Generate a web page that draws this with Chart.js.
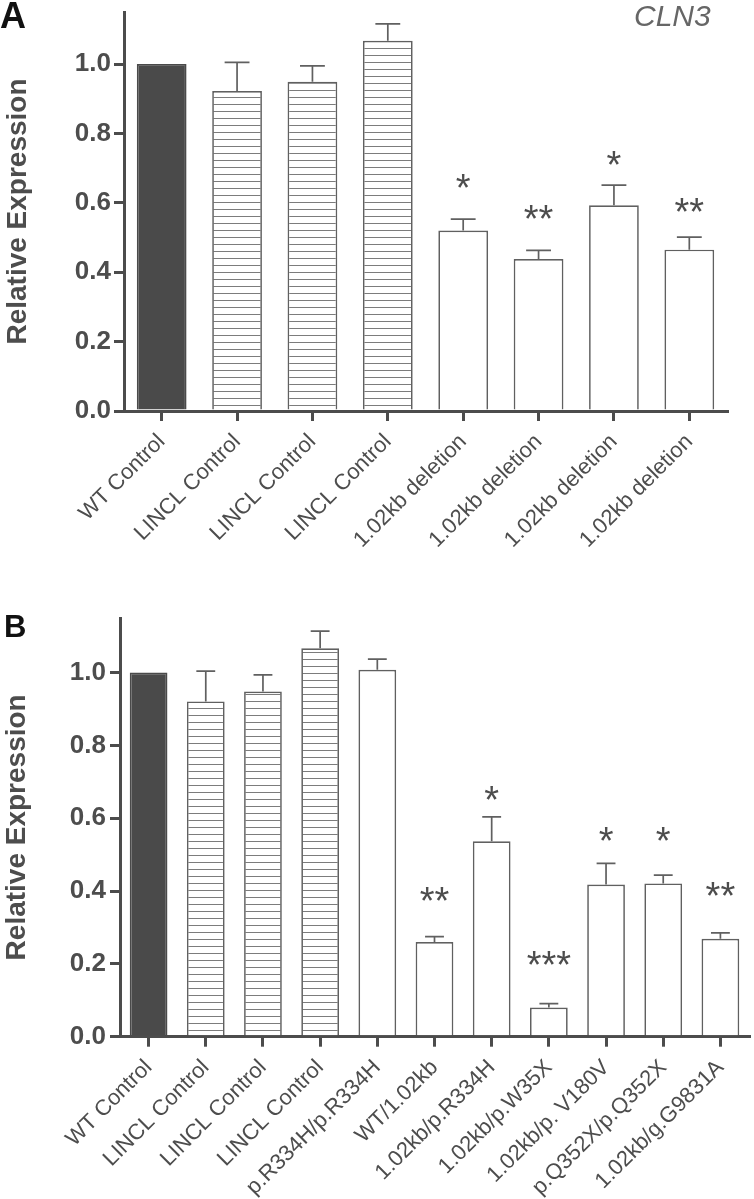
<!DOCTYPE html>
<html><head><meta charset="utf-8">
<script src="https://cdn.jsdelivr.net/npm/chart.js@4.4.0/dist/chart.umd.min.js"></script>
<style>
html,body{margin:0;padding:0;background:#fff;}
#wrap{position:relative;width:754px;height:1199px;overflow:hidden;background:#fff;}
canvas{position:absolute;left:0;}
</style></head><body>
<div id="wrap">
<canvas id="cA" width="754" height="590" style="top:0;width:754px;height:590px"></canvas>
<canvas id="cB" width="754" height="609" style="top:590px;width:754px;height:609px"></canvas>
</div>
<script>
// ---------- data ----------
const yTicks = [0, 0.2, 0.4, 0.6, 0.8, 1.0];

const labelsA = ['WT Control', 'LINCL Control', 'LINCL Control', 'LINCL Control',
  '1.02kb deletion', '1.02kb deletion', '1.02kb deletion', '1.02kb deletion'];
const meanA = [1.0, 0.922, 0.949, 1.067, 0.520, 0.438, 0.593, 0.465];
const semA  = [0, 0.083, 0.046, 0.049, 0.033, 0.025, 0.058, 0.036];
const sigA  = ['', '', '', '', '*', '**', '*', '**'];
const sigYA = [null, null, null, null, 0.662, 0.575, 0.728, 0.595];

const labelsB = ['WT Control', 'LINCL Control', 'LINCL Control', 'LINCL Control',
  'p.R334H/p.R334H', 'WT/1.02kb', '1.02kb/p.R334H', '1.02kb/p.W35X',
  '1.02kb/p. V180V', 'p.Q352X/p.Q352X', '1.02kb/g.G9831A'];
const meanB = [1.0, 0.921, 0.948, 1.067, 1.008, 0.260, 0.537, 0.080, 0.418, 0.421, 0.269];
const semB  = [0, 0.083, 0.046, 0.047, 0.029, 0.015, 0.067, 0.011, 0.058, 0.023, 0.016];
const sigB  = ['', '', '', '', '', '**', '*', '***', '*', '*', '**'];
const sigYB = [null, null, null, null, null, 0.393, 0.670, 0.216, 0.558, 0.558, 0.405];

// ---------- styles ----------
const FONT = "'Liberation Sans', Arial, Helvetica, sans-serif";
const AXIS = '#4c4c4c';
const TEXT = '#4d4d4d';
const EDGE = '#606060';
const DARK = '#4a4a4a';

function hatch() {
  const c = document.createElement('canvas');
  c.width = 8; c.height = 7;
  const g = c.getContext('2d');
  g.fillStyle = '#ffffff'; g.fillRect(0, 0, 8, 7);
  g.fillStyle = '#7c7c7c'; g.fillRect(0, 6, 8, 1);
  return g.createPattern(c, 'repeat');
}
const HATCH = hatch();

function fillFor(lbl) {
  if (lbl === 'WT Control') return DARK;
  if (lbl.indexOf('LINCL') === 0) return HATCH;
  return '#ffffff';
}

function overlay(sem, sig, sigY, extra) {
  return {
    id: 'overlay',
    afterDatasetsDraw(chart) {
      const ctx = chart.ctx, y = chart.scales.y;
      const meta = chart.getDatasetMeta(0);
      const data = chart.data.datasets[0].data;
      ctx.save();
      ctx.strokeStyle = EDGE; ctx.lineWidth = 1.7;
      meta.data.forEach((bar, i) => {
        if (!sem[i]) return;
        const top = y.getPixelForValue(data[i] + sem[i]);
        const half = bar.width * 0.25;
        ctx.beginPath();
        ctx.moveTo(bar.x, bar.y); ctx.lineTo(bar.x, top);
        ctx.moveTo(bar.x - half, top); ctx.lineTo(bar.x + half, top);
        ctx.stroke();
      });
      ctx.fillStyle = TEXT;
      ctx.font = '38px ' + FONT;
      ctx.textAlign = 'center';
      ctx.textBaseline = 'alphabetic';
      meta.data.forEach((bar, i) => {
        if (!sig[i]) return;
        const m = ctx.measureText(sig[i]);
        const cy = y.getPixelForValue(sigY[i]);
        const base = cy + (m.actualBoundingBoxAscent - m.actualBoundingBoxDescent) / 2;
        ctx.fillText(sig[i], bar.x, base);
      });
      ctx.restore();
    },
    afterDraw(chart) {
      const ctx = chart.ctx;
      ctx.save();
      ctx.textBaseline = 'alphabetic';
      ctx.textAlign = 'left';
      extra.forEach(t => {
        ctx.font = t.font; ctx.fillStyle = t.color;
        ctx.fillText(t.text, t.x, t.y);
      });
      ctx.restore();
    }
  };
}

function makeChart(id, labels, mean, sem, sig, sigY, cfg) {
  const gridCfg = { display: true, drawOnChartArea: false, drawTicks: true, tickLength: 10,
                    lineWidth: 3, color: AXIS, offset: false };
  return new Chart(document.getElementById(id), {
    type: 'bar',
    data: {
      labels: labels,
      datasets: [{
        data: mean,
        backgroundColor: labels.map(fillFor),
        borderColor: labels.map(l => l === 'WT Control' ? DARK : EDGE),
        borderWidth: 1.7,
        borderSkipped: 'start',
        categoryPercentage: 1.0,
        barPercentage: 0.66
      }]
    },
    options: {
      responsive: false, animation: false, devicePixelRatio: 1,
      events: [],
      layout: { autoPadding: false, padding: { left: 0, top: cfg.top, right: cfg.right, bottom: 0 } },
      plugins: { legend: { display: false }, tooltip: { enabled: false } },
      scales: {
        x: {
          type: 'category', offset: true, z: 1,
          grid: gridCfg,
          border: { display: true, width: 3, color: AXIS },
          ticks: { autoSkip: false, minRotation: 45, maxRotation: 45, padding: cfg.xpad,
                   color: TEXT, font: { family: FONT, size: 22 } },
          afterFit(s) { s.height = cfg.xh; s.paddingLeft = 0; s.paddingRight = 0; s.paddingTop = 0; s.paddingBottom = 0; }
        },
        y: {
          min: 0, max: 1.15, z: 1,
          grid: gridCfg,
          border: { display: true, width: 3, color: AXIS },
          ticks: { padding: cfg.ypad, color: TEXT, font: { family: FONT, size: 26, weight: 'bold' },
                   callback: v => Number(v).toFixed(1) },
          afterBuildTicks(s) { s.ticks = yTicks.map(v => ({ value: v })); },
          title: { display: true, text: 'Relative Expression', color: TEXT,
                   font: { family: FONT, size: 28, weight: 'bold', lineHeight: 1.2 },
                   padding: { top: cfg.tpad, bottom: 0 } },
          afterFit(s) { s.width = cfg.yw; s.paddingTop = 0; s.paddingBottom = 0; s.paddingLeft = 0; s.paddingRight = 0; }
        }
      }
    },
    plugins: [overlay(sem, sig, sigY, cfg.extra)]
  });
}

makeChart('cA', labelsA, meanA, semA, sigA, sigYA, {
  top: 12, right: 27, xh: 179, yw: 124, xpad: 8, ypad: 3, tpad: 1.5,
  extra: [
    { text: 'A', x: 0, y: 28, font: 'bold 36px ' + FONT, color: '#111' },
    { text: 'CLN3', x: 634, y: 26, font: 'italic 30px ' + FONT, color: '#666' }
  ]
});
makeChart('cB', labelsB, meanB, semB, sigB, sigYB, {
  top: 28, right: 5, xh: 162.3, yw: 120, xpad: 8, ypad: 4, tpad: 0,
  extra: [
    { text: 'B', x: 4, y: 46.7, font: 'bold 31px ' + FONT, color: '#111' }
  ]
});
</script>
</body></html>
